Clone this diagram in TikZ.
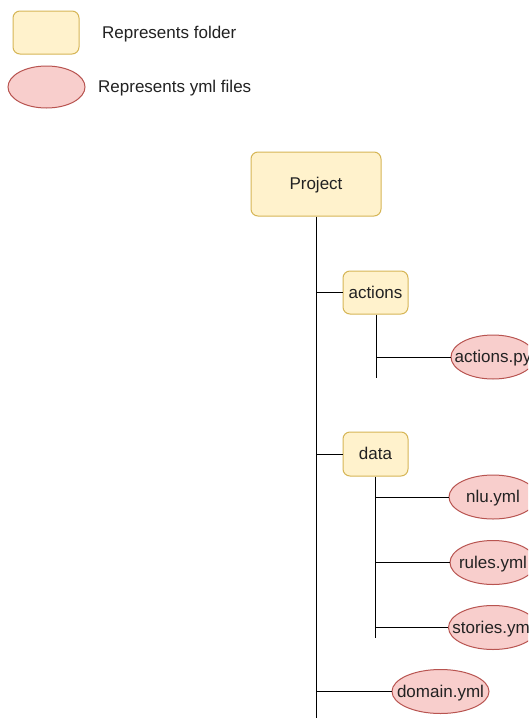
\documentclass[tikz,border=0pt]{standalone}
\usepackage{fontspec}
\setmainfont{Liberation Sans}
\usetikzlibrary{shapes.geometric}
\definecolor{foldfill}{HTML}{FFF2CC}
\definecolor{folddraw}{HTML}{D6B656}
\definecolor{ymlfill}{HTML}{F8CECC}
\definecolor{ymldraw}{HTML}{B85450}
\definecolor{ink}{HTML}{222222}
\newcommand{\ctext}[1]{\makebox[0pt]{#1}}
\tikzset{
  txt/.style={text=ink, font=\fontsize{17}{20}\selectfont, text height=14pt, text depth=2.3pt},
  folder/.style={draw=folddraw, fill=foldfill, line width=1pt, rounded corners=7pt,
    inner sep=0pt, txt},
  ymlfile/.style={ellipse, draw=ymldraw, fill=ymlfill, line width=1pt, inner sep=0pt, txt},
  label/.style={anchor=west, inner sep=0pt, txt},
  tree/.style={draw=black, line width=1pt},
}
\begin{document}
\begin{tikzpicture}[x=1pt, y=-1pt]
\clip (0,0) rectangle (528,718);
\fill[white] (0,0) rectangle (528,718);

% legend
\node[folder, minimum width=66pt, minimum height=43pt] (legfold) at (46,32.5) {};
\node[label] (legfoldtxt) at (102,33) {Represents folder};
\node[ymlfile, minimum width=77pt, minimum height=42pt] (legyml) at (46.5,87) {};
\node[label] (legymltxt) at (98,87) {Represents yml files};

% folders
\node[folder, minimum width=130pt, minimum height=64pt] (project) at (316,184) {Project};
\node[folder, minimum width=65pt, minimum height=43pt] (actions) at (375.5,292.5) {actions};
\node[folder, minimum width=65pt, minimum height=44pt] (data) at (375.5,454) {data};

% files (labels set with zero width so the ellipse keeps its given size)
\node[ymlfile, minimum width=84pt, minimum height=44pt] (actpy) at (493,357) {\ctext{actions.py}};
\node[ymlfile, minimum width=88pt, minimum height=44pt] (nlu) at (493,497) {\ctext{nlu.yml}};
\node[ymlfile, minimum width=86pt, minimum height=44pt] (rules) at (493,562.5) {\ctext{rules.yml}};
\node[ymlfile, minimum width=89pt, minimum height=44pt] (stories) at (493,627.5) {\ctext{stories.yml}};
\node[ymlfile, minimum width=97pt, minimum height=44pt] (domain) at (440.5,691.5) {\ctext{domain.yml}};

% trunk lines
\coordinate (trunkend) at (316,718);
\coordinate (actend) at (376,378);
\coordinate (dataend) at (375,638);
\draw[tree] (project.south) -- (trunkend);
\draw[tree] (actions.south -| actend) -- (actend);
\draw[tree] (data.south -| dataend) -- (dataend);

% branches
\draw[tree] (project.south |- actions.west) -- (actions.west);
\draw[tree] (project.south |- data.west) -- (data.west);
\draw[tree] (actend |- actpy.west) -- (actpy.west);
\draw[tree] (dataend |- nlu.west) -- (nlu.west);
\draw[tree] (dataend |- rules.west) -- (rules.west);
\draw[tree] (dataend |- stories.west) -- (stories.west);
\draw[tree] (project.south |- domain.west) -- (domain.west);
\end{tikzpicture}
\end{document}
